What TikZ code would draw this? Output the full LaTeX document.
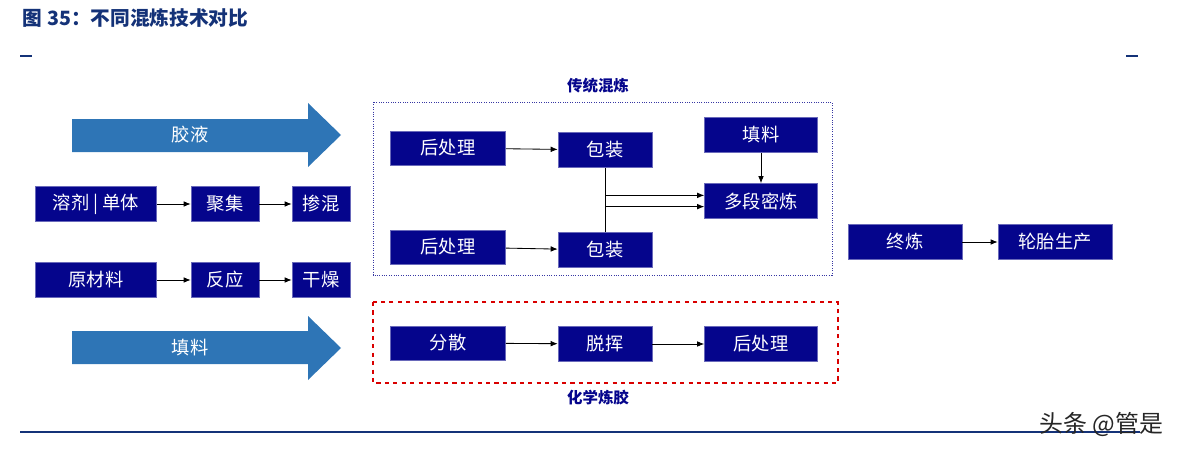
\documentclass[tikz,border=0pt]{standalone}
\usepackage{fontspec}
\setmainfont{Noto Sans CJK SC}
\newfontfamily\cjk{Noto Sans CJK SC}
\usetikzlibrary{arrows.meta}
\definecolor{navy}{RGB}{5,5,140}
\definecolor{ttl}{RGB}{20,50,120}
\definecolor{arr}{RGB}{46,117,182}
\begin{document}
\begin{tikzpicture}[x=0.025cm,y=-0.025cm,
  box/.style={fill=navy,draw=navy!60,text=white,font=\cjk\fontsize{13}{13}\selectfont,inner sep=0pt},
  con/.style={-{Latex[length=5pt,width=4pt]},line width=0.6pt},
  big/.style={fill=arr,draw=none}]
\useasboundingbox (0,0) rectangle (1184,453);
% title
\node[anchor=west,text=ttl,font=\cjk\bfseries\fontsize{14}{14}\selectfont] (title) at (18,18) {图 35：不同混炼技术对比};
\fill[ttl] (20,55) rectangle (32,57);
\fill[ttl] (1126,55) rectangle (1138,57);
\fill[ttl] (20,431) rectangle (1140,433);
% big arrows
\fill[big] (72,119) -- (308,119) -- (308,103) -- (341,135) -- (308,167) -- (308,152) -- (72,152) -- cycle;
\node[text=white,font=\cjk\fontsize{13}{13}\selectfont] (jy) at (190,135) {胶液};
\fill[big] (72,331) -- (308,331) -- (308,316) -- (341,348) -- (308,380) -- (308,364) -- (72,364) -- cycle;
\node[text=white,font=\cjk\fontsize{13}{13}\selectfont] (tl) at (190,348) {填料};
% left rows
\node[box,minimum width=121*0.025cm,minimum height=35*0.025cm] (a1) at (96,204) {溶剂 | 单体};
\node[box,minimum width=68*0.025cm,minimum height=35*0.025cm] (a2) at (225,204) {聚集};
\node[box,minimum width=58*0.025cm,minimum height=35*0.025cm] (a3) at (321,204) {掺混};
\node[box,minimum width=121*0.025cm,minimum height=35*0.025cm] (b1) at (96,280) {原材料};
\node[box,minimum width=68*0.025cm,minimum height=35*0.025cm] (b2) at (225,280) {反应};
\node[box,minimum width=58*0.025cm,minimum height=35*0.025cm] (b3) at (321,280) {干燥};
\draw[con] (a1) -- (a2); \draw[con] (a2) -- (a3);
\draw[con] (b1) -- (b2); \draw[con] (b2) -- (b3);
% traditional
\draw[navy!80,densely dotted,line width=0.7pt] (373,102) rectangle (832,275);
\node[text=navy,font=\cjk\bfseries\fontsize{11}{11}\selectfont] (t1) at (598,86) {传统混炼};
\node[box,minimum width=115*0.025cm,minimum height=34*0.025cm] (p1) at (448,148) {后处理};
\node[box,minimum width=94*0.025cm,minimum height=35*0.025cm] (k1) at (605,150) {包装};
\node[box,minimum width=113*0.025cm,minimum height=35*0.025cm] (f1) at (761,135) {填料};
\node[box,minimum width=113*0.025cm,minimum height=35*0.025cm] (m1) at (761,201) {多段密炼};
\node[box,minimum width=115*0.025cm,minimum height=34*0.025cm] (p2) at (448,247) {后处理};
\node[box,minimum width=94*0.025cm,minimum height=35*0.025cm] (k2) at (605,250) {包装};
\draw[con] (p1) -- (k1);
\draw[con] (p2) -- (k2);
\draw[con] (f1) -- (m1);
\draw[con] (k1.south) |- ([yshift=-4]m1.west);
\draw[con] (k2.north) |- ([yshift=4]m1.west);
% chemical
\draw[red!85!black,dashed,line width=1.2pt] (373,302) rectangle (838,383);
\node[text=navy,font=\cjk\bfseries\fontsize{11}{11}\selectfont] (t2) at (598,398) {化学炼胶};
\node[box,minimum width=115*0.025cm,minimum height=34*0.025cm] (d1) at (448,343) {分散};
\node[box,minimum width=94*0.025cm,minimum height=35*0.025cm] (d2) at (605,344) {脱挥};
\node[box,minimum width=113*0.025cm,minimum height=35*0.025cm] (d3) at (761,344) {后处理};
\draw[con] (d1) -- (d2); \draw[con] (d2) -- (d3);
% final
\node[box,minimum width=114*0.025cm,minimum height=35*0.025cm] (z1) at (905,242) {终炼};
\node[box,minimum width=114*0.025cm,minimum height=35*0.025cm] (z2) at (1055,242) {轮胎生产};
\draw[con] (z1) -- (z2);
% watermark
\node[anchor=east,font=\cjk\fontsize{17}{17}\selectfont,text=black!85] (wm) at (1168,424) {头条 @管是};
\end{tikzpicture}
\end{document}
